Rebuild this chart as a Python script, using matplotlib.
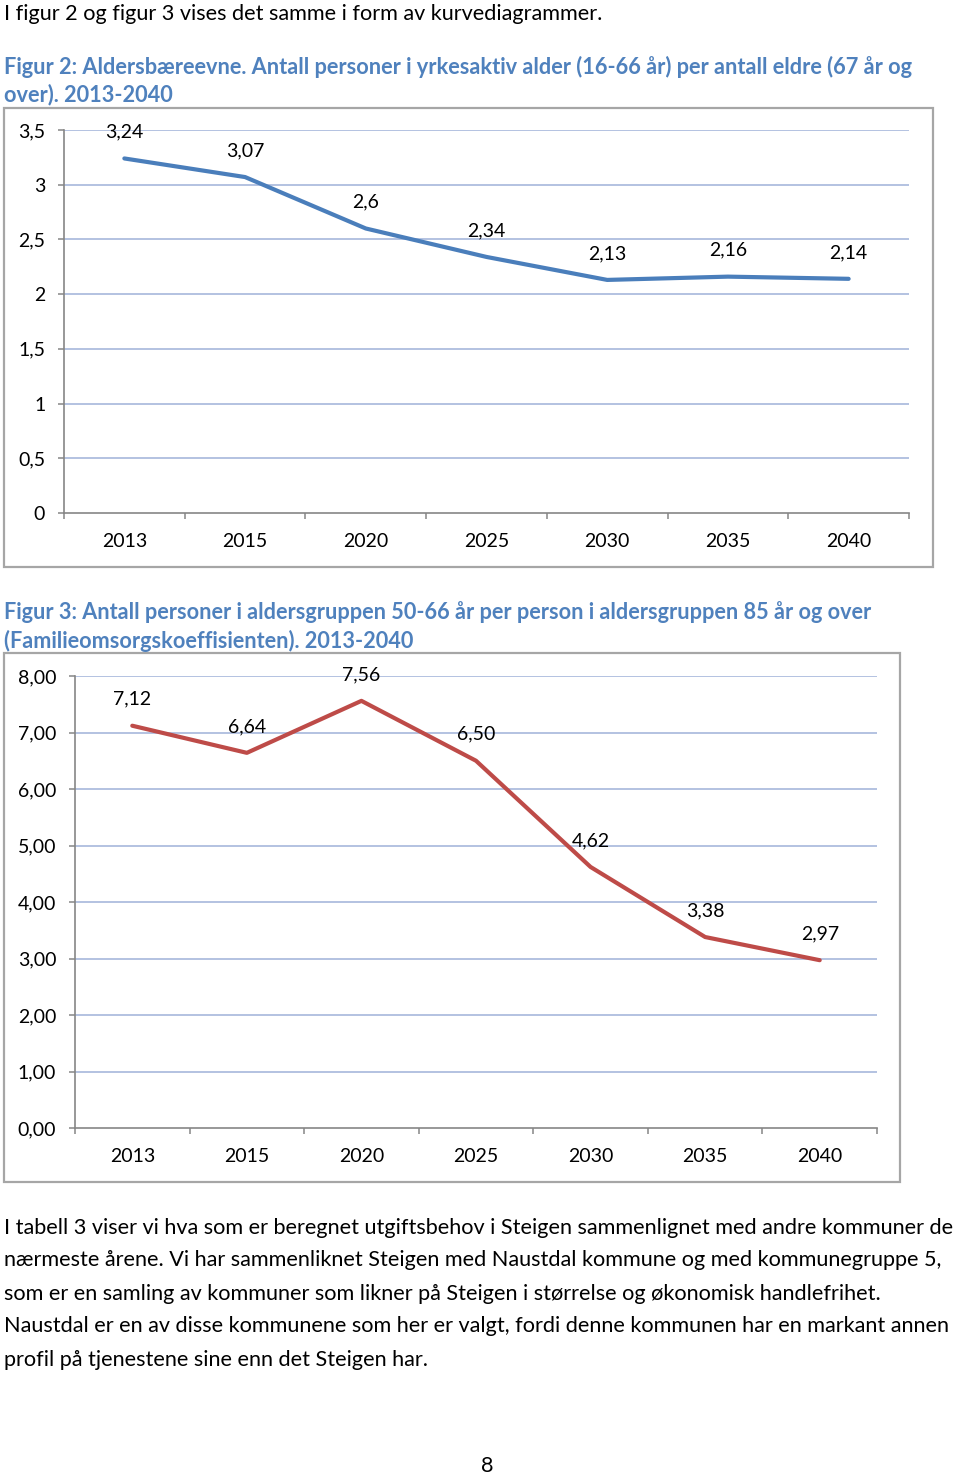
import matplotlib
matplotlib.use("Agg")
import matplotlib.pyplot as plt
from matplotlib.patches import Rectangle
from matplotlib.ticker import FixedLocator, FuncFormatter

plt.rcParams['font.family'] = ['Lato', 'DejaVu Sans']

# ---------------- data ----------------
years = ['2013', '2015', '2020', '2025', '2030', '2035', '2040']
aldersbaereevne = [3.24, 3.07, 2.6, 2.34, 2.13, 2.16, 2.14]
familieomsorg = [7.12, 6.64, 7.56, 6.50, 4.62, 3.38, 2.97]
y_ticks_fig2 = [0, 0.5, 1, 1.5, 2, 2.5, 3, 3.5]
y_ticks_fig3 = [0, 1, 2, 3, 4, 5, 6, 7, 8]

intro_line = "I figur 2 og figur 3 vises det samme i form av kurvediagrammer."
heading2 = ["Figur 2: Aldersbæreevne. Antall personer i yrkesaktiv alder (16-66 år) per antall eldre (67 år og",
            "over). 2013-2040"]
heading3 = ["Figur 3: Antall personer i aldersgruppen 50-66 år per person i aldersgruppen 85 år og over",
            "(Familieomsorgskoeffisienten). 2013-2040"]
paragraph = [
    "I tabell 3 viser vi hva som er beregnet utgiftsbehov i Steigen sammenlignet med andre kommuner de",
    "nærmeste årene. Vi har sammenliknet Steigen med Naustdal kommune og med kommunegruppe 5,",
    "som er en samling av kommuner som likner på Steigen i størrelse og økonomisk handlefrihet.",
    "Naustdal er en av disse kommunene som her er valgt, fordi denne kommunen har en markant annen",
    "profil på tjenestene sine enn det Steigen har.",
]
page_number = "8"

# ---------------- layout ----------------
W, H = 960, 1474
fig = plt.figure(figsize=(W / 100, H / 100), dpi=100)
fig.patch.set_facecolor('white')
renderer = fig.canvas.get_renderer()

HEAD_COLOR = '#4f81bd'
GRID = '#a7b7dc'
AXC = '#868686'
BOX = '#a6a6a6'


def fx(px):
    return px / W


def fy(py):
    return 1 - py / H


def put(x, y, s, size=14, weight='normal', color='black', ha='left'):
    return fig.text(fx(x), fy(y + 1.5), s, fontsize=size, fontweight=weight,
                    color=color, ha=ha, va='center')


def fit(t, target):
    bb = t.get_window_extent(renderer)
    return t.get_fontsize() * target / bb.width


def rect(l, t, r, b):
    return [l / W, 1 - b / H, (r - l) / W, (b - t) / H]


def box(l, t, r, b):
    fig.patches.append(Rectangle((fx(l), fy(b)), (r - l) / W, (b - t) / H,
                                 transform=fig.transFigure, fill=False,
                                 edgecolor=BOX, linewidth=1.6))


# intro line
t = put(4, 12, intro_line, 15)
t.set_fontsize(fit(t, 600))

# heading 2
t1 = put(4, 65, heading2[0], 15, 'bold', HEAD_COLOR)
fs = fit(t1, 914)
t1.set_fontsize(fs)
put(4, 93, heading2[1], fs, 'bold', HEAD_COLOR)

# heading 3
t3 = put(4, 611, heading3[0], 15, 'bold', HEAD_COLOR)
fs3 = fit(t3, 869)
t3.set_fontsize(fs3)
put(4, 639, heading3[1], fs3, 'bold', HEAD_COLOR)

# paragraph
tp = put(4, 1226, paragraph[0], 15)
fsp = fit(tp, 954)
tp.set_fontsize(fsp)
for i, line in enumerate(paragraph[1:], start=1):
    put(4, 1226 + 33 * i, line, fsp)

put(487, 1464, page_number, fsp, ha='center')

TICK_FS = 14


def draw_chart(rect_px, values, yticks, ylim, color, yfmt, lblfmt):
    ax = fig.add_axes(rect(*rect_px))
    x = list(range(len(years)))
    ax.plot(x, values, color=color, linewidth=3.0,
            solid_capstyle='round', solid_joinstyle='round', zorder=3)
    for xi, v in zip(x, values):
        ax.annotate(lblfmt(v), (xi, v), xytext=(0, 19.0), textcoords='offset points',
                    ha='center', va='center', fontsize=TICK_FS, zorder=4)
    ax.set_xlim(-0.5, len(years) - 0.5)
    ax.set_ylim(*ylim)
    ax.set_yticks(yticks)
    ax.yaxis.set_major_formatter(FuncFormatter(lambda v, p: yfmt(v)))
    for yv in yticks[1:]:
        ax.axhline(yv, color=GRID, linewidth=1.2, zorder=1)
    ax.set_xticks(x)
    ax.set_xticklabels(years)
    ax.xaxis.set_minor_locator(FixedLocator([i - 0.5 for i in range(len(years) + 1)]))
    ax.tick_params(axis='x', which='major', length=0, pad=14.5, labelsize=TICK_FS)
    ax.tick_params(axis='x', which='minor', length=4.5, width=1.1, color=AXC, direction='out')
    ax.tick_params(axis='y', length=4.5, width=1.1, color=AXC, pad=9, labelsize=TICK_FS)
    for s in ['top', 'right']:
        ax.spines[s].set_visible(False)
    for s in ['left', 'bottom']:
        ax.spines[s].set_color(AXC)
        ax.spines[s].set_linewidth(1.2)
    ax.set_facecolor('none')
    return ax


# chart 1
box(4, 108, 933, 567)
draw_chart((64, 130, 909, 513), aldersbaereevne, y_ticks_fig2, (0, 3.5), '#4a7ebb',
           lambda v: f'{v:g}'.replace('.', ','),
           lambda v: f'{v:g}'.replace('.', ','))

# chart 2
box(4, 653, 900, 1182)
draw_chart((75, 676, 877, 1128), familieomsorg, y_ticks_fig3, (0, 8), '#be4b48',
           lambda v: f'{v:.2f}'.replace('.', ','),
           lambda v: f'{v:.2f}'.replace('.', ','))

fig.savefig('out.png', dpi=100, facecolor='white')
